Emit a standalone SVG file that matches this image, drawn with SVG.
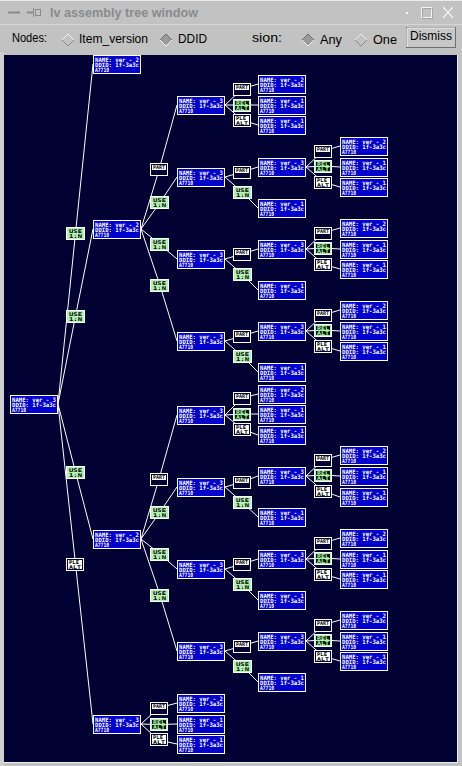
<svg xmlns="http://www.w3.org/2000/svg" xmlns:xlink="http://www.w3.org/1999/xlink" width="462" height="766" viewBox="0 0 462 766">
<style>
.ui{font-family:"Liberation Sans",Arial,sans-serif;font-size:13px;fill:#000}
.ttl{font-family:"Liberation Sans",Arial,sans-serif;font-size:13px;font-weight:bold;fill:#8a8a8a}
.nb{fill:#0000cc;stroke:#fff;stroke-width:1}
.nt{font-family:"DejaVu Sans Mono",monospace;font-size:6px;font-weight:bold;fill:#fff}
.lb{fill:#000032;stroke:#fff;stroke-width:1}
.lgb{fill:#b4f0b4;stroke:#fff;stroke-width:1}
.lt{font-family:"DejaVu Sans Mono",monospace;font-size:5px;font-weight:bold;fill:#000}
.ltg{font-family:"DejaVu Sans Mono",monospace;font-size:5px;font-weight:bold;fill:#b4f0b4}
.e{fill:none;stroke:#fff;stroke-width:1}
</style>
<defs>
<clipPath id="cv"><rect x="4" y="55" width="453" height="707"/></clipPath>
<g id="nd1"><rect class="nb" x="0.5" y="0.5" width="47" height="18"/><text class="nt" x="2" y="6.5" textLength="44" lengthAdjust="spacingAndGlyphs">NAME: ver - 1</text><text class="nt" x="2" y="11.5" textLength="44" lengthAdjust="spacingAndGlyphs">DDID: 1f-3a3c</text><text class="nt" x="2" y="16.5" textLength="14" lengthAdjust="spacingAndGlyphs">A7710</text></g>
<g id="nd2"><rect class="nb" x="0.5" y="0.5" width="47" height="18"/><text class="nt" x="2" y="6.5" textLength="44" lengthAdjust="spacingAndGlyphs">NAME: ver - 2</text><text class="nt" x="2" y="11.5" textLength="44" lengthAdjust="spacingAndGlyphs">DDID: 1f-3a3c</text><text class="nt" x="2" y="16.5" textLength="14" lengthAdjust="spacingAndGlyphs">A7710</text></g>
<g id="nd3"><rect class="nb" x="0.5" y="0.5" width="47" height="18"/><text class="nt" x="2" y="6.5" textLength="44" lengthAdjust="spacingAndGlyphs">NAME: ver - 3</text><text class="nt" x="2" y="11.5" textLength="44" lengthAdjust="spacingAndGlyphs">DDID: 1f-3a3c</text><text class="nt" x="2" y="16.5" textLength="14" lengthAdjust="spacingAndGlyphs">A7710</text></g>
<g id="lw1"><rect class="lb" x="0.5" y="0.5" width="17" height="12"/><rect x="2" y="2" width="14" height="5" fill="#fff"/><text class="lt" x="3" y="6.3" textLength="12" lengthAdjust="spacingAndGlyphs">PART</text></g>
<g id="lw2"><rect class="lb" x="0.5" y="0.5" width="17" height="12"/><rect x="2" y="2" width="14" height="9" fill="#fff"/><text class="lt" x="3" y="6.3" textLength="10" lengthAdjust="spacingAndGlyphs">PLE</text><text class="lt" x="3" y="10.5" textLength="12" lengthAdjust="spacingAndGlyphs">ALT</text></g>
<g id="lg"><rect class="lgb" x="0.5" y="0.5" width="18" height="12"/><text class="lt" x="3" y="6" textLength="13" lengthAdjust="spacingAndGlyphs">USE</text><text class="lt" x="3" y="10.8" textLength="13" lengthAdjust="spacingAndGlyphs">1:N</text></g>
<g id="lgd"><rect class="lgb" x="0.5" y="0.5" width="17" height="12"/><rect x="2" y="2" width="14" height="4" fill="#001a00"/><rect x="2" y="7" width="14" height="4" fill="#001a00"/><text class="ltg" x="3" y="5.6" textLength="12" lengthAdjust="spacingAndGlyphs">REL</text><text class="ltg" x="3" y="10.6" textLength="12" lengthAdjust="spacingAndGlyphs">ALT</text></g>
</defs>

<!-- window frame -->
<rect x="0" y="0" width="462" height="766" fill="#c2c2c2"/>
<line x1="0" y1="0.5" x2="462" y2="0.5" stroke="#ececec"/>
<line x1="0" y1="24.5" x2="462" y2="24.5" stroke="#d6d6d6"/>
<g id="titlebar">
<line x1="8" y1="12.5" x2="20" y2="12.5" stroke="#8a8a8a" stroke-width="2"/>
<line x1="27" y1="12.5" x2="33" y2="12.5" stroke="#8a8a8a" stroke-width="2"/>
<line x1="33.5" y1="8" x2="33.5" y2="17" stroke="#8a8a8a"/>
<rect x="35.5" y="9.5" width="5" height="6" fill="none" stroke="#8a8a8a"/>
<text class="ttl" x="50" y="17" textLength="148" lengthAdjust="spacingAndGlyphs">lv assembly tree window</text>
<rect x="406" y="12" width="2" height="2" fill="#f4f4f4"/>
<rect x="421.5" y="7.5" width="10" height="10" fill="none" stroke="#f4f4f4"/>
<rect x="422.5" y="8.5" width="10" height="10" fill="none" stroke="#8a8a8a" stroke-opacity="0.5"/>
<path d="M443,7 L453,18 M453,7 L443,18" stroke="#f4f4f4" stroke-width="1.2"/>
</g>
<g id="toolbar">
<text class="ui" x="12" y="42" textLength="35" lengthAdjust="spacingAndGlyphs">Nodes:</text>
<path d="M68,34 L74,40 L68,46 L62,40 Z" fill="#c2c2c2" stroke="#8a8a8a"/>
<path d="M62,40 L68,34 L74,40" fill="none" stroke="#f0f0f0"/>
<text class="ui" x="79" y="43" textLength="69" lengthAdjust="spacingAndGlyphs">Item_version</text>
<path d="M166,34 L172,40 L166,46 L160,40 Z" fill="#9a9a9a" stroke="#f0f0f0"/>
<path d="M160,40 L166,34 L172,40" fill="none" stroke="#6e6e6e"/>
<text class="ui" x="178" y="43" textLength="29" lengthAdjust="spacingAndGlyphs">DDID</text>
<text class="ui" x="252" y="42" textLength="30" lengthAdjust="spacingAndGlyphs">sion:</text>
<path d="M308,34 L314,40 L308,46 L302,40 Z" fill="#9a9a9a" stroke="#f0f0f0"/>
<path d="M302,40 L308,34 L314,40" fill="none" stroke="#6e6e6e"/>
<text class="ui" x="320" y="44" textLength="22" lengthAdjust="spacingAndGlyphs">Any</text>
<path d="M361,34 L367,40 L361,46 L355,40 Z" fill="#c2c2c2" stroke="#8a8a8a"/>
<path d="M355,40 L361,34 L367,40" fill="none" stroke="#f0f0f0"/>
<text class="ui" x="373" y="44" textLength="24" lengthAdjust="spacingAndGlyphs">One</text>
<rect x="406.5" y="27.5" width="49" height="20" fill="#c8c8c8" stroke="#6e6e6e"/>
<path d="M407,47 L407,28 L455,28" fill="none" stroke="#f4f4f4"/>
<text class="ui" x="410" y="40" textLength="42" lengthAdjust="spacingAndGlyphs">Dismiss</text>
</g>
<rect x="0" y="52" width="4" height="714" fill="#d0d0d0"/>
<rect x="4" y="55" width="453" height="707" fill="#000032"/>
<line x1="457.5" y1="55" x2="457.5" y2="763" stroke="#f0f0f0"/>
<line x1="4" y1="762.5" x2="458" y2="762.5" stroke="#f0f0f0"/>

<g clip-path="url(#cv)">
<g id="connectors">
<path class="e" d="M58,404 L75.5,233 L93,64 M58,404 L75.5,316 L93,229 M58,404 L75.5,472 L93,539 M58,404 L75.5,564 L93,724"/>
<path class="e" d="M141,229 L159,170 L177,105 M141,229 L160,202.5 L177,177 M141,229 L160,244.5 L177,259 M141,229 L160,285.5 L177,341"/>
<path class="e" d="M141,539 L159,479 L177,415 M141,539 L160,512 L177,487 M141,539 L160,554 L177,569 M141,539 L160,595 L177,651"/>
<path class="e" d="M141,724 L158.5,708 L177,703 M141,724 L158.5,724.5 L177,724 M141,724 L158.5,740 L177,744"/>
<path class="e" d="M225,105 L242,89 L258,84 M225,105 L242,105 L258,105 M225,105 L242,120 L258,125"/>
<path class="e" d="M225,415 L242,398 L258,394 M225,415 L242,414 L258,414 M225,415 L242,429 L258,435"/>
<path class="e" d="M225,177 L242,172 L258,167 M225,177 L242,192 L258,208"/>
<path class="e" d="M225,259 L242,254 L258,249 M225,259 L242,274 L258,290"/>
<path class="e" d="M225,341 L242,336 L258,331 M225,341 L242,356 L258,372"/>
<path class="e" d="M225,487 L242,482 L258,476 M225,487 L242,502 L258,517"/>
<path class="e" d="M225,569 L242,564 L258,559 M225,569 L242,584 L258,600"/>
<path class="e" d="M225,651 L242,646 L258,641 M225,651 L242,666 L258,682"/>
<path class="e" d="M306,167 L323,151 L340,146 M306,167 L323,166 L340,167 M306,167 L323,182 L340,187"/>
<path class="e" d="M306,249 L323,233 L340,228 M306,249 L323,248 L340,249 M306,249 L323,264 L340,269"/>
<path class="e" d="M306,331 L323,315 L340,310 M306,331 L323,330 L340,331 M306,331 L323,346 L340,351"/>
<path class="e" d="M306,476 L323,460 L340,455 M306,476 L323,475 L340,476 M306,476 L323,491 L340,497"/>
<path class="e" d="M306,559 L323,543 L340,538 M306,559 L323,558 L340,559 M306,559 L323,574 L340,579"/>
<path class="e" d="M306,641 L323,625 L340,620 M306,641 L323,640 L340,641 M306,641 L323,656 L340,661"/>
</g>

<g id="labels">
<use id="l-T" href="#lg" x="66" y="227"/>
<use id="l-A" href="#lg" x="66" y="310"/>
<use id="l-B" href="#lg" x="66" y="466"/>
<use id="l-D" href="#lw2" x="66" y="558"/>
<use id="l-A1" href="#lw1" x="150" y="163"/>
<use id="l-A2" href="#lg" x="150" y="196"/>
<use id="l-A3" href="#lg" x="150" y="238"/>
<use id="l-A4" href="#lg" x="150" y="279"/>
<use id="l-B1" href="#lw1" x="150" y="473"/>
<use id="l-B2" href="#lg" x="150" y="506"/>
<use id="l-B3" href="#lg" x="150" y="548"/>
<use id="l-B4" href="#lg" x="150" y="589"/>
<use id="l-D1" href="#lw1" x="150" y="702"/>
<use id="l-D2" href="#lgd" x="150" y="718"/>
<use id="l-D3" href="#lw2" x="150" y="733"/>
<use id="l-A1a" href="#lw1" x="233" y="83"/>
<use id="l-A1b" href="#lgd" x="233" y="99"/>
<use id="l-A1c" href="#lw2" x="233" y="114"/>
<use id="l-B1a" href="#lw1" x="233" y="392"/>
<use id="l-B1b" href="#lgd" x="233" y="408"/>
<use id="l-B1c" href="#lw2" x="233" y="423"/>
<use id="l-A2a" href="#lw1" x="233" y="166"/>
<use id="l-A2b" href="#lg" x="233" y="186"/>
<use id="l-A3a" href="#lw1" x="233" y="248"/>
<use id="l-A3b" href="#lg" x="233" y="268"/>
<use id="l-A4a" href="#lw1" x="233" y="330"/>
<use id="l-A4b" href="#lg" x="233" y="350"/>
<use id="l-B2a" href="#lw1" x="233" y="476"/>
<use id="l-B2b" href="#lg" x="233" y="496"/>
<use id="l-B3a" href="#lw1" x="233" y="558"/>
<use id="l-B3b" href="#lg" x="233" y="578"/>
<use id="l-B4a" href="#lw1" x="233" y="640"/>
<use id="l-B4b" href="#lg" x="233" y="660"/>
<use href="#lw1" x="314" y="145"/><use href="#lgd" x="314" y="160"/><use href="#lw2" x="314" y="176"/>
<use href="#lw1" x="314" y="227"/><use href="#lgd" x="314" y="242"/><use href="#lw2" x="314" y="258"/>
<use href="#lw1" x="314" y="309"/><use href="#lgd" x="314" y="324"/><use href="#lw2" x="314" y="340"/>
<use href="#lw1" x="314" y="454"/><use href="#lgd" x="314" y="469"/><use href="#lw2" x="314" y="485"/>
<use href="#lw1" x="314" y="537"/><use href="#lgd" x="314" y="552"/><use href="#lw2" x="314" y="568"/>
<use href="#lw1" x="314" y="619"/><use href="#lgd" x="314" y="634"/><use href="#lw2" x="314" y="650"/>
</g>

<g id="n-root"><use href="#nd3" x="10" y="395"/></g>
<g id="n-T"><use href="#nd2" x="93" y="55"/></g>
<g id="n-A"><use href="#nd2" x="93" y="220"/></g>
<g id="n-B"><use href="#nd2" x="93" y="530"/></g>
<g id="n-D"><use href="#nd3" x="93" y="715"/></g>
<g id="n-A1"><use href="#nd3" x="177" y="96"/></g>
<g id="n-A2"><use href="#nd3" x="177" y="168"/></g>
<g id="n-A3"><use href="#nd3" x="177" y="250"/></g>
<g id="n-A4"><use href="#nd3" x="177" y="332"/></g>
<g id="n-B1"><use href="#nd3" x="177" y="406"/></g>
<g id="n-B2"><use href="#nd3" x="177" y="478"/></g>
<g id="n-B3"><use href="#nd3" x="177" y="560"/></g>
<g id="n-B4"><use href="#nd3" x="177" y="642"/></g>
<g id="n-D1"><use href="#nd2" x="177" y="694"/></g>
<g id="n-D2"><use href="#nd1" x="177" y="715"/></g>
<g id="n-D3"><use href="#nd1" x="177" y="735"/></g>
<g id="n-A1a"><use href="#nd2" x="258" y="75"/></g>
<g id="n-A1b"><use href="#nd1" x="258" y="96"/></g>
<g id="n-A1c"><use href="#nd1" x="258" y="116"/></g>
<g id="n-B1a"><use href="#nd2" x="258" y="385"/></g>
<g id="n-B1b"><use href="#nd1" x="258" y="405"/></g>
<g id="n-B1c"><use href="#nd1" x="258" y="426"/></g>
<g id="n-A2a"><use href="#nd3" x="258" y="158"/></g>
<g id="n-A2b"><use href="#nd1" x="258" y="199"/></g>
<g id="n-A3a"><use href="#nd3" x="258" y="240"/></g>
<g id="n-A3b"><use href="#nd1" x="258" y="281"/></g>
<g id="n-A4a"><use href="#nd3" x="258" y="322"/></g>
<g id="n-A4b"><use href="#nd1" x="258" y="363"/></g>
<g id="n-B2a"><use href="#nd3" x="258" y="467"/></g>
<g id="n-B2b"><use href="#nd1" x="258" y="508"/></g>
<g id="n-B3a"><use href="#nd3" x="258" y="550"/></g>
<g id="n-B3b"><use href="#nd1" x="258" y="591"/></g>
<g id="n-B4a"><use href="#nd3" x="258" y="632"/></g>
<g id="n-B4b"><use href="#nd1" x="258" y="673"/></g>
<g id="n-A2a1"><use href="#nd2" x="340" y="137"/></g>
<g id="n-A2a2"><use href="#nd1" x="340" y="158"/></g>
<g id="n-A2a3"><use href="#nd1" x="340" y="178"/></g>
<g id="n-A3a1"><use href="#nd2" x="340" y="219"/></g>
<g id="n-A3a2"><use href="#nd1" x="340" y="240"/></g>
<g id="n-A3a3"><use href="#nd1" x="340" y="260"/></g>
<g id="n-A4a1"><use href="#nd2" x="340" y="301"/></g>
<g id="n-A4a2"><use href="#nd1" x="340" y="322"/></g>
<g id="n-A4a3"><use href="#nd1" x="340" y="342"/></g>
<g id="n-B2a1"><use href="#nd2" x="340" y="446"/></g>
<g id="n-B2a2"><use href="#nd1" x="340" y="467"/></g>
<g id="n-B2a3"><use href="#nd1" x="340" y="488"/></g>
<g id="n-B3a1"><use href="#nd2" x="340" y="529"/></g>
<g id="n-B3a2"><use href="#nd1" x="340" y="550"/></g>
<g id="n-B3a3"><use href="#nd1" x="340" y="570"/></g>
<g id="n-B4a1"><use href="#nd2" x="340" y="611"/></g>
<g id="n-B4a2"><use href="#nd1" x="340" y="632"/></g>
<g id="n-B4a3"><use href="#nd1" x="340" y="652"/></g>
</g>
</svg>
